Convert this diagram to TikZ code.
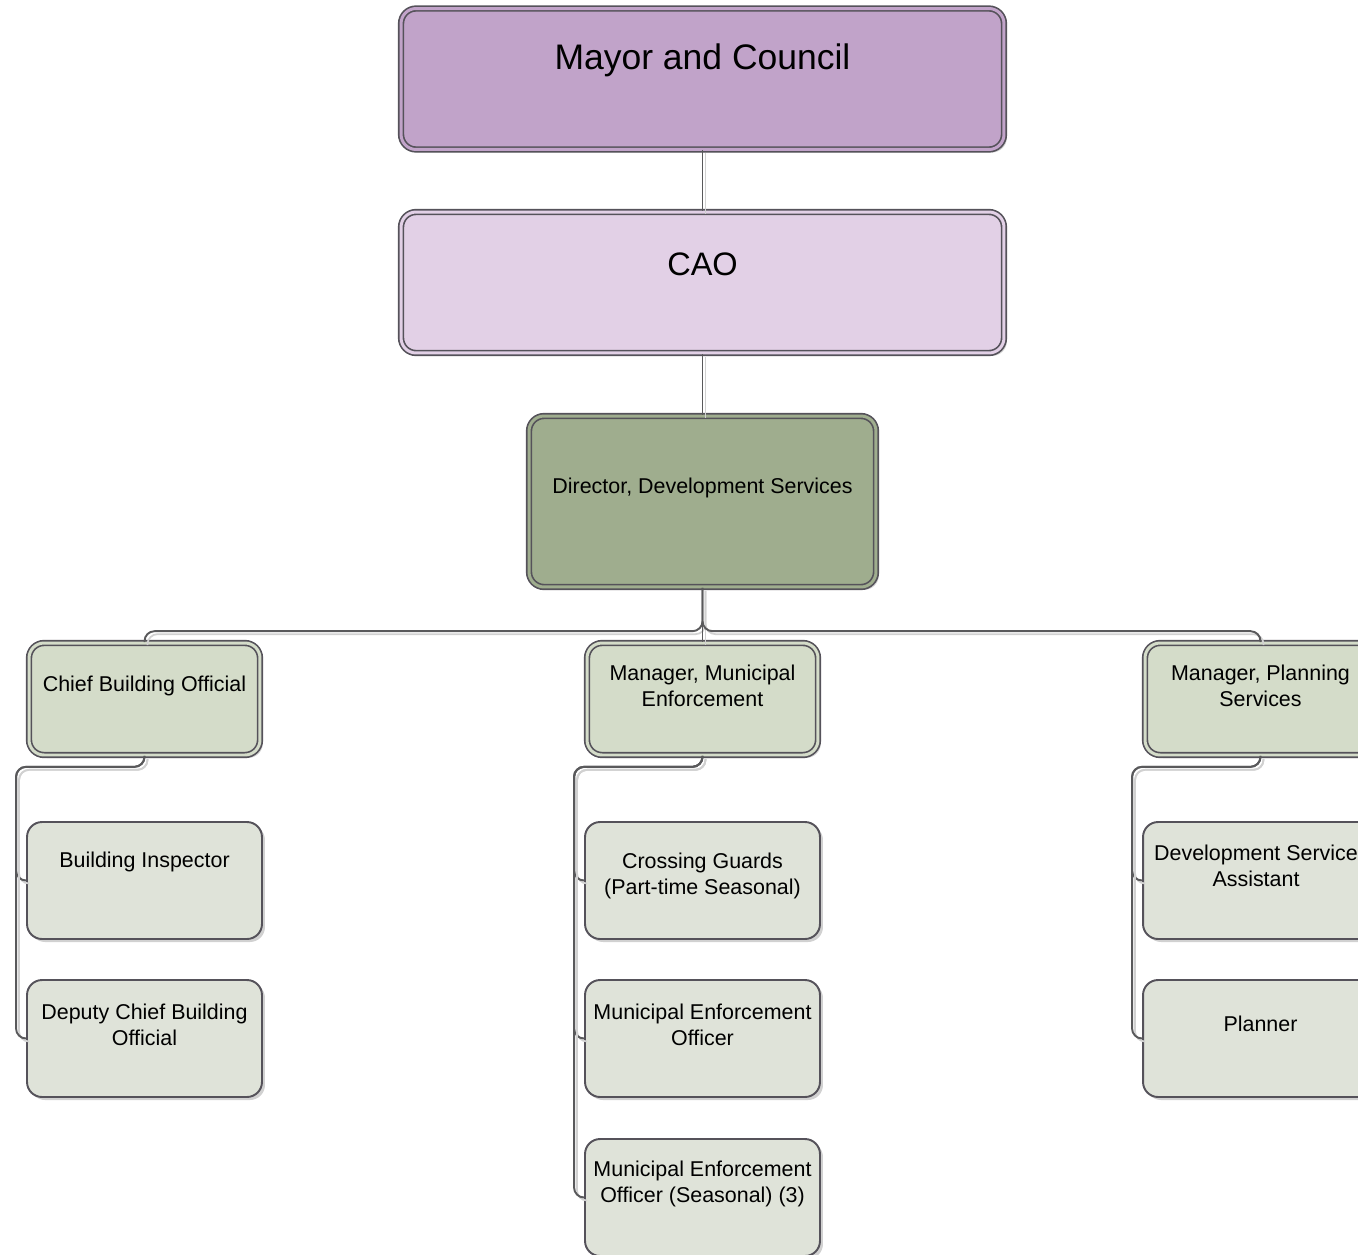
\documentclass[tikz,border=0pt]{standalone}
\usepackage{fontspec}
\setmainfont{Liberation Sans}
\usetikzlibrary{shadows}

\definecolor{edgegray}{HTML}{55525A}
\definecolor{linkgray}{HTML}{59595B}
\definecolor{mayorfill}{HTML}{C1A3C9}
\definecolor{caofill}{HTML}{E2D0E6}
\definecolor{dirfill}{HTML}{9FAD8E}
\definecolor{mgrfill}{HTML}{D4DCC9}
\definecolor{stafffill}{HTML}{DFE3D9}

\tikzset{
  card/.style={draw=edgegray, line width=1.1pt, rounded corners=0.3cm,
    drop shadow={shadow xshift=0.06cm, shadow yshift=-0.06cm, opacity=0.18, fill=black}},
  dblcard/.style={card, line width=0.95pt, double distance=1.7pt},
  topbox/.style={dblcard, double=#1, fill=#1, minimum width=12.06cm, minimum height=2.82cm},
  dirbox/.style={dblcard, double=dirfill, fill=dirfill, minimum width=6.94cm, minimum height=3.42cm},
  mgrbox/.style={dblcard, double=mgrfill, fill=mgrfill, minimum width=4.62cm, minimum height=2.24cm},
  staffbox/.style={card, fill=stafffill, minimum width=4.7cm, minimum height=2.34cm},
  txt/.style={align=center, font=\fontsize{12.2}{14.6}\selectfont, inner sep=0pt},
  bigtxt/.style={align=center, font=\fontsize{20.2}{24}\selectfont, inner sep=0pt},
  link/.style={draw=linkgray, line width=1.1pt, rounded corners=0.2cm,
    preaction={draw=black!18, line width=1pt, transform canvas={shift={(3,3)}}}}
}

\begin{document}
\begin{tikzpicture}[x=0.02cm, y=-0.02cm]
\useasboundingbox (0,0) rectangle (1358,1254);
\clip (0,0) rectangle (1358,1254);

% top of the chart
\node[topbox=mayorfill] (mayor) at (702.5,79) {};
\node[bigtxt] (mayor-t) at (702.5,60) {Mayor and Council};
\node[topbox=caofill] (cao) at (702.5,282.5) {};
\node[bigtxt, font=\fontsize{18.5}{22}\selectfont] (cao-t) at (702.5,264) {CAO};
\node[dirbox] (dir) at (702.5,501.5) {};
\node[txt] (dir-t) at (702.5,488) {Director, Development Services};

% managers
\node[mgrbox] (cbo) at (144.5,699) {};
\node[txt] (cbo-t) at (144.5,686) {Chief Building Official};
\node[mgrbox] (mme) at (702.5,699) {};
\node[txt] (mme-t) at (702.5,686) {Manager, Municipal\\Enforcement};
\node[mgrbox] (mps) at (1260.5,699) {};
\node[txt] (mps-t) at (1260.5,686) {Manager, Planning\\Services};

% staff
\node[staffbox] (bi) at (144.5,880.5) {};
\node[txt] (bi-t) at (144.5,862) {Building Inspector};
\node[staffbox] (dcbo) at (144.5,1038.5) {};
\node[txt] (dcbo-t) at (144.5,1025) {Deputy Chief Building\\Official};
\node[staffbox] (cg) at (702.5,880.5) {};
\node[txt] (cg-t) at (702.5,876) {Crossing Guards\\(Part-time Seasonal)};
\node[staffbox] (meo) at (702.5,1038.5) {};
\node[txt] (meo-t) at (702.5,1025) {Municipal Enforcement\\Officer};
\node[staffbox] (meos) at (702.5,1197.5) {};
\node[txt] (meos-t) at (702.5,1184) {Municipal Enforcement\\Officer (Seasonal) (3)};
\node[staffbox] (dsa) at (1260.5,880.5) {};
\node[txt] (dsa-t) at (1256,866) {Development Service\\Assistant};
\node[staffbox] (pln) at (1260.5,1038.5) {};
\node[txt] (pln-t) at (1260.5,1024) {Planner};

% connectors
\draw[link] (mayor.south) -- (cao.north);
\draw[link] (cao.south) -- (dir.north);
\draw[link] (dir.south) |- ([yshift=0.22cm]cbo.north) -- (cbo.north);
\draw[link] (dir.south) -- (mme.north);
\draw[link] (dir.south) |- ([yshift=0.22cm]mps.north) -- (mps.north);

\foreach \boss/\kid in {cbo/bi, cbo/dcbo, mme/cg, mme/meo, mme/meos, mps/dsa, mps/pln}
  \draw[link] (\boss.south) -- ++(0,11) -| ([xshift=-0.2cm]\kid.west) -- (\kid.west);

\end{tikzpicture}
\end{document}
